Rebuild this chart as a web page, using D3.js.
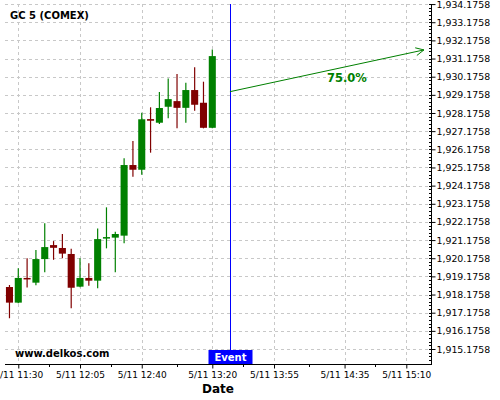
<!DOCTYPE html>
<html>
<head>
<meta charset="utf-8">
<script src="https://cdn.jsdelivr.net/npm/d3@7"></script>
<style>
  body { margin: 0; background: #fff; }
  svg { display: block; font-family: "DejaVu Sans", sans-serif; }
</style>
</head>
<body>
<svg id="chart" width="500" height="400"></svg>
<script>
// ---- data ----
const title = "GC 5 (COMEX)";
const times = ["11:25","11:30","11:35","11:40","11:45","11:50","11:55","12:00","12:05","12:10","12:15","12:20",
               "12:25","12:30","12:35","12:40","12:45","12:50","12:55","13:00","13:05","13:10","13:15","13:20"];
const open  = [1918.59,1917.73,1919.09,1918.83,1920.13,1920.90,1920.74,1920.41,1918.61,1919.09,1918.94,1921.29,
               1921.31,1921.42,1925.31,1925.05,1927.84,1927.64,1928.52,1928.83,1928.46,1929.44,1928.74,1927.36];
const high  = [1918.70,1919.62,1920.17,1920.63,1922.10,1921.12,1921.51,1920.70,1920.17,1919.90,1921.82,1922.98,
               1921.64,1925.68,1926.63,1928.19,1928.49,1929.33,1930.08,1930.32,1929.84,1930.69,1929.90,1931.68];
const low   = [1916.87,1917.70,1918.57,1918.69,1919.40,1920.09,1920.17,1917.42,1918.58,1918.66,1918.52,1920.72,
               1919.40,1921.00,1924.67,1924.78,1925.99,1927.57,1927.88,1927.33,1927.64,1928.30,1927.33,1927.33];
const close = [1917.73,1919.09,1919.03,1920.13,1920.79,1920.75,1920.43,1918.55,1919.09,1918.94,1921.23,1921.34,
               1921.51,1925.31,1925.05,1927.83,1927.75,1928.45,1928.94,1928.46,1929.44,1928.63,1927.36,1931.31];
const yTicks = [1915.1758,1916.1758,1917.1758,1918.1758,1919.1758,1920.1758,1921.1758,1922.1758,1923.1758,1924.1758,
                1925.1758,1926.1758,1927.1758,1928.1758,1929.1758,1930.1758,1931.1758,1932.1758,1933.1758,1934.1758];
const xTicks = ["11:30","12:05","12:40","13:20","13:55","14:35","15:10"];
const xDomain = ["11:22:28","15:24:00"];
const yDomain = [1914.35, 1934.40];
const eventTime = "13:30";
const eventLabel = "Event";
const arrowStart = {time: "13:30", value: 1929.35};
const arrowEnd   = {time: "15:20", value: 1931.65};
const arrowLabel = "75.0%";
const xLabel = "Date";
const watermark = "www.delkos.com";
const datePrefix = "5/11";

// ---- helpers ----
const parseT = s => {
  const p = s.split(":").map(Number);
  return new Date(2015, 4, 11, p[0], p[1], p[2] || 0);
};
const candles = times.map((t, i) => ({t: parseT(t), o: open[i], h: high[i], l: low[i], c: close[i]}));

const pLeft = 5, pRight = 431, pTop = 4, pBottom = 364;
const x = d3.scaleTime().domain(xDomain.map(parseT)).range([pLeft, pRight]);
const y = d3.scaleLinear().domain(yDomain).range([pBottom, 0]);

const svg = d3.select("#chart");
svg.append("rect").attr("width", 500).attr("height", 400).attr("fill", "#fff");

const grid = svg.append("g").attr("stroke", "#c8c8c8").attr("stroke-dasharray", "3,3").attr("stroke-width", 1);
grid.selectAll("line.h").data(yTicks).join("line")
  .attr("x1", pLeft).attr("x2", pRight)
  .attr("y1", d => Math.round(y(d)) + 0.5).attr("y2", d => Math.round(y(d)) + 0.5);
grid.selectAll("line.v").data(xTicks).join("line")
  .attr("x1", d => Math.round(x(parseT(d))) + 0.5).attr("x2", d => Math.round(x(parseT(d))) + 0.5)
  .attr("y1", pTop).attr("y2", pBottom);

// candles
const step = x(parseT("11:30")) - x(parseT("11:25"));
const bw = step * 0.8;
const cg = svg.append("g");
cg.selectAll("line.wick").data(candles).join("line")
  .attr("x1", d => x(d.t)).attr("x2", d => x(d.t))
  .attr("y1", d => y(d.h)).attr("y2", d => y(d.l))
  .attr("stroke", d => d.c >= d.o ? "#008000" : "#800000").attr("stroke-width", 1.2);
cg.selectAll("rect.body").data(candles).join("rect")
  .attr("x", d => x(d.t) - bw / 2).attr("width", bw)
  .attr("y", d => y(Math.max(d.o, d.c)))
  .attr("height", d => Math.max(1.5, Math.abs(y(d.o) - y(d.c))))
  .attr("fill", d => d.c >= d.o ? "#008000" : "#800000");

// event line
const ex = Math.round(x(parseT(eventTime))) + 0.5;
svg.append("line").attr("x1", ex).attr("x2", ex).attr("y1", pTop).attr("y2", pBottom)
  .attr("stroke", "#0000ff").attr("stroke-width", 1);
svg.append("rect").attr("x", ex - 22).attr("y", 350).attr("width", 44).attr("height", 14).attr("fill", "#0000ff");
svg.append("text").attr("x", ex).attr("y", 361).attr("text-anchor", "middle")
  .attr("fill", "#fff").attr("font-weight", "bold").attr("font-size", 10).text(eventLabel);

// arrow
const ax1 = x(parseT(arrowStart.time)), ay1 = y(arrowStart.value);
const ax2 = x(parseT(arrowEnd.time)), ay2 = y(arrowEnd.value);
svg.append("line").attr("x1", ax1).attr("y1", ay1).attr("x2", ax2).attr("y2", ay2)
  .attr("stroke", "#008000").attr("stroke-width", 1);
const ang = Math.atan2(ay2 - ay1, ax2 - ax1);
const hl = 9, ha = 0.45;
svg.append("path")
  .attr("d", `M${ax2 - hl * Math.cos(ang - ha)},${ay2 - hl * Math.sin(ang - ha)}L${ax2},${ay2}L${ax2 - hl * Math.cos(ang + ha)},${ay2 - hl * Math.sin(ang + ha)}`)
  .attr("fill", "none").attr("stroke", "#008000").attr("stroke-width", 1);
const mx = (ax1 + ax2) / 2 + 20, my = (ay1 + ay2) / 2 + 11;
svg.append("text").attr("x", mx).attr("y", my).attr("text-anchor", "middle")
  .attr("fill", "#008000").attr("font-weight", "bold").attr("font-size", 11.5).text(arrowLabel);

// x axis
svg.append("line").attr("x1", pLeft).attr("x2", pRight).attr("y1", pBottom + 0.5).attr("y2", pBottom + 0.5)
  .attr("stroke", "#000");
const xAxis = d3.axisBottom(x)
  .tickValues(xTicks.map(parseT))
  .tickSize(4).tickPadding(3)
  .tickFormat(d => datePrefix + " " + d3.timeFormat("%H:%M")(d));
const gx = svg.append("g").attr("transform", `translate(0,${pBottom + 0.5})`).call(xAxis);
gx.select(".domain").remove();
gx.selectAll("text").attr("font-size", 9).attr("font-family", "DejaVu Sans").attr("fill", "#000");
// minor x ticks
const xt = xTicks.map(parseT);
const minorX = xt.slice(1).map((d, i) => new Date((d.getTime() + xt[i].getTime()) / 2));
svg.append("g").selectAll("line").data(minorX).join("line")
  .attr("x1", d => Math.round(x(d)) + 0.5).attr("x2", d => Math.round(x(d)) + 0.5)
  .attr("y1", pBottom).attr("y2", pBottom + 3).attr("stroke", "#000");

svg.append("text").attr("x", (pLeft + pRight) / 2).attr("y", 393).attr("text-anchor", "middle")
  .attr("font-weight", "bold").attr("font-size", 12).text(xLabel);

// y axis (right)
const yAxis = d3.axisRight(y).tickValues(yTicks).tickSize(4).tickPadding(1)
  .tickFormat(d3.format(",.4f"));
const gy = svg.append("g").attr("transform", `translate(${pRight + 0.5},0)`).call(yAxis);
gy.select(".domain").remove();
gy.selectAll("text").attr("font-size", 9.4).attr("font-family", "DejaVu Sans").attr("fill", "#000");
svg.append("line").attr("x1", pRight + 0.5).attr("x2", pRight + 0.5).attr("y1", pTop).attr("y2", pBottom + 1)
  .attr("stroke", "#000");
const minorY = d3.range(0, 100).map(i => yTicks[0] - 0.8 + i * 0.2).filter(v => y(v) >= pTop && y(v) <= pBottom);
svg.append("g").selectAll("line").data(minorY).join("line")
  .attr("x1", pRight - 2).attr("x2", pRight)
  .attr("y1", d => Math.round(y(d)) + 0.5).attr("y2", d => Math.round(y(d)) + 0.5)
  .attr("stroke", "#000");

// titles
svg.append("text").attr("x", 10).attr("y", 19).attr("font-weight", "bold").attr("font-size", 10).text(title);
svg.append("text").attr("x", 15).attr("y", 357).attr("font-weight", "bold").attr("font-size", 10).text(watermark);
</script>
</body>
</html>
